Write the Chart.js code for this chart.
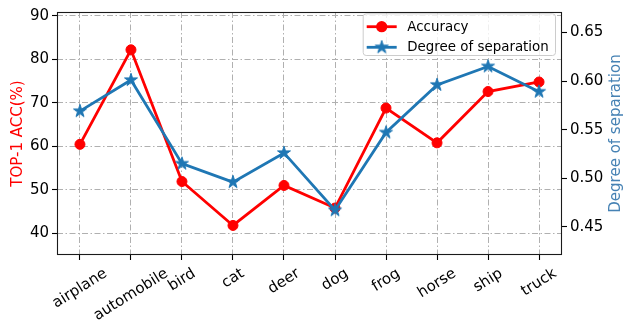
<!DOCTYPE html>
<html>
<head>
<meta charset="utf-8">
<script src="https://cdn.jsdelivr.net/npm/chart.js@4.4.1/dist/chart.umd.min.js"></script>
<style>
  html, body { margin: 0; padding: 0; background: #ffffff; }
  #wrap { width: 624px; height: 326px; }
</style>
</head>
<body>
<div id="wrap"><canvas id="c" width="624" height="326"></canvas></div>
<script>
// CIFAR-10 classes
const categories = ['airplane', 'automobile', 'bird', 'cat', 'deer', 'dog', 'frog', 'horse', 'ship', 'truck'];
// Top-1 accuracy per class (%)
const accuracy = [60.45, 82.2, 51.9, 41.8, 51.0, 45.8, 68.8, 60.8, 72.6, 74.8];
// Degree of separation per class
const separation = [0.569, 0.601, 0.515, 0.496, 0.526, 0.467, 0.547, 0.596, 0.615, 0.589];
// Axis tick values
const accTicks = [40, 50, 60, 70, 80, 90];
const sepTicks = [0.45, 0.50, 0.55, 0.60, 0.65];

const FONT = "'DejaVu Sans', sans-serif";
const RED = '#ff0000';
const BLUE = '#1f77b4';
const TITLE_BLUE = '#4682b4';
const GRID = '#b0b0b0';
const GRID_DASH = [6, 2.5, 1.5, 2.5];
const LABEL_ROT = 32 * Math.PI / 180;

// filled five-point star used as the separation marker
function makeStar(R, color) {
  const s = Math.ceil(R * 2 + 2);
  const cv = document.createElement('canvas');
  cv.width = s; cv.height = s;
  const g = cv.getContext('2d');
  const cx = s / 2, cy = s / 2, r = R * 0.381966;
  g.beginPath();
  for (let k = 0; k < 10; k++) {
    const a = -Math.PI / 2 + k * Math.PI / 5;
    const rr = (k % 2) ? r : R;
    g.lineTo(cx + rr * Math.cos(a), cy + rr * Math.sin(a));
  }
  g.closePath();
  g.fillStyle = color; g.fill();
  g.lineWidth = 1; g.strokeStyle = color; g.stroke();
  return cv;
}
const starMarker = makeStar(6.8, BLUE);

function drawStar(ctx, x, y) {
  ctx.drawImage(starMarker, x - starMarker.width / 2, y - starMarker.height / 2);
}

// frame, rotated category labels, axis titles and legend
const decorations = {
  id: 'decorations',
  afterDraw(chart) {
    const ctx = chart.ctx;
    const a = chart.chartArea;
    const xs = chart.scales.x;

    ctx.save();
    // frame around the plot
    ctx.strokeStyle = '#1a1a1a';
    ctx.lineWidth = 1.1;
    ctx.strokeRect(Math.round(a.left) + 0.5, Math.round(a.top) + 0.5,
                   Math.round(a.right) - Math.round(a.left) - 1 + 0.0, Math.round(a.bottom) - Math.round(a.top) - 1);

    // rotated category labels, centred under each tick
    ctx.font = '15px ' + FONT;
    ctx.fillStyle = '#000';
    ctx.textAlign = 'center';
    ctx.textBaseline = 'middle';
    const H = 15 * 1.164;
    const y0 = a.bottom + 5 + 4.9;
    categories.forEach((lab, i) => {
      const W = ctx.measureText(lab).width;
      const bh = W * Math.sin(LABEL_ROT) + H * Math.cos(LABEL_ROT);
      const cx = xs.getPixelForValue(i);
      const cy = y0 + bh / 2;
      ctx.save();
      ctx.translate(cx, cy);
      ctx.rotate(-LABEL_ROT);
      ctx.fillText(lab, 0, 0);
      ctx.restore();
    });

    // axis titles
    const midY = (a.top + a.bottom) / 2;
    ctx.save();
    ctx.translate(18, midY);
    ctx.rotate(-Math.PI / 2);
    ctx.fillStyle = RED;
    ctx.fillText('TOP-1 ACC(%)', 0, 0);
    ctx.restore();

    ctx.save();
    ctx.translate(616.5, midY);
    ctx.rotate(-Math.PI / 2);
    ctx.fillStyle = TITLE_BLUE;
    ctx.fillText('Degree of separation', 0, 0);
    ctx.restore();

    // legend
    const lx = 362.7, ly = 13.3, lw = 192.3, lh = 41.7;
    ctx.beginPath();
    ctx.roundRect(lx + 0.5, ly + 0.5, lw, lh, 3);
    ctx.fillStyle = 'rgba(255,255,255,0.8)';
    ctx.fill();
    ctx.strokeStyle = '#cccccc';
    ctx.lineWidth = 1;
    ctx.stroke();

    const rows = [
      { y: 26.7, color: RED, text: 'Accuracy', marker: 'circle' },
      { y: 47.3, color: BLUE, text: 'Degree of separation', marker: 'star' }
    ];
    rows.forEach(r => {
      ctx.beginPath();
      ctx.moveTo(366.7, r.y);
      ctx.lineTo(396.7, r.y);
      ctx.strokeStyle = r.color;
      ctx.lineWidth = 2.8;
      ctx.stroke();
      if (r.marker === 'circle') {
        ctx.beginPath();
        ctx.arc(381.7, r.y, 5.6, 0, Math.PI * 2);
        ctx.fillStyle = r.color;
        ctx.fill();
      } else {
        drawStar(ctx, 381.7, r.y);
      }
      ctx.font = '13.4px ' + FONT;
      ctx.fillStyle = '#000';
      ctx.textAlign = 'left';
      ctx.textBaseline = 'middle';
      ctx.fillText(r.text, 407.3, r.y + 0.5);
    });
    ctx.restore();
  }
};

const gridCommon = {
  color: GRID,
  lineWidth: 1,
  tickColor: '#000',
  tickLength: 5,
  tickWidth: 1.1
};

const tickFont = { family: FONT, size: 15 };

new Chart(document.getElementById('c'), {
  type: 'line',
  data: {
    datasets: [
      {
        label: 'Accuracy',
        data: accuracy.map((v, i) => ({ x: i, y: v })),
        yAxisID: 'yL',
        borderColor: RED,
        backgroundColor: RED,
        borderWidth: 2.8,
        pointRadius: 5,
        pointBorderWidth: 1,
        pointBackgroundColor: RED,
        pointBorderColor: RED,
        tension: 0,
        fill: false,
        order: 1
      },
      {
        label: 'Degree of separation',
        data: separation.map((v, i) => ({ x: i, y: v })),
        yAxisID: 'yR',
        borderColor: BLUE,
        backgroundColor: BLUE,
        borderWidth: 2.8,
        pointStyle: starMarker,
        pointRadius: 7,
        tension: 0,
        fill: false,
        order: 0
      }
    ]
  },
  options: {
    responsive: false,
    animation: false,
    devicePixelRatio: 1,
    layout: { padding: { top: 9, left: 0, right: 0, bottom: 0 } },
    plugins: { legend: { display: false }, tooltip: { enabled: false } },
    scales: {
      x: {
        type: 'linear',
        min: -0.45,
        max: 9.45,
        afterBuildTicks: s => { s.ticks = categories.map((_, i) => ({ value: i })); },
        afterFit: s => { s.height = 71; },
        ticks: { display: false },
        grid: gridCommon,
        border: { display: false, dash: GRID_DASH }
      },
      yL: {
        type: 'linear',
        position: 'left',
        min: 35,
        max: 90.9,
        afterBuildTicks: s => { s.ticks = accTicks.map(v => ({ value: v })); },
        afterFit: s => { s.width = 57; },
        ticks: { font: tickFont, color: '#000', padding: 3, callback: v => String(v) },
        grid: gridCommon,
        border: { display: false, dash: GRID_DASH }
      },
      yR: {
        type: 'linear',
        position: 'right',
        min: 0.421,
        max: 0.671,
        afterBuildTicks: s => { s.ticks = sepTicks.map(v => ({ value: v })); },
        afterFit: s => { s.width = 62; },
        ticks: { font: tickFont, color: '#000', padding: 3, callback: v => Number(v).toFixed(2) },
        grid: Object.assign({}, gridCommon, { drawOnChartArea: false }),
        border: { display: false }
      }
    }
  },
  plugins: [decorations]
});
</script>
</body>
</html>
